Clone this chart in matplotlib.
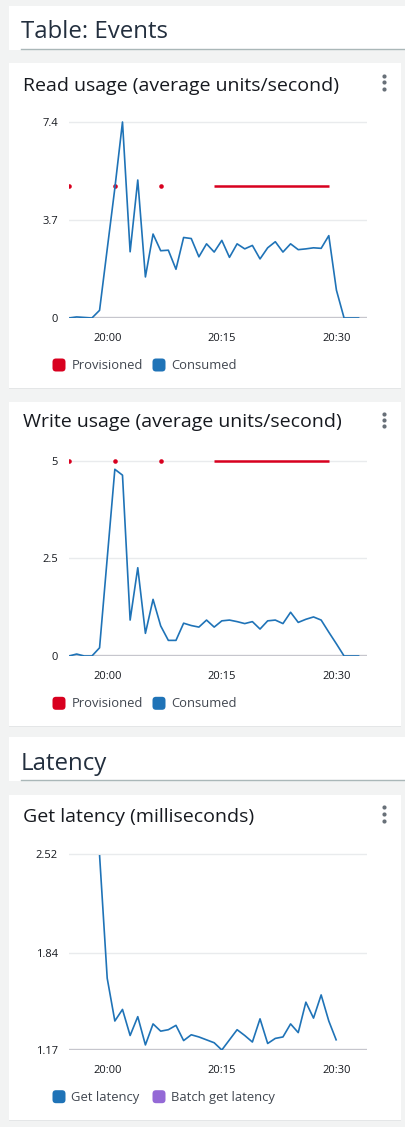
import matplotlib
matplotlib.use("Agg")
import matplotlib.pyplot as plt
import matplotlib.dates as mdates
from matplotlib.patches import FancyBboxPatch, Rectangle
import numpy as np
import pandas as pd

W, H = 406, 1127
nan = np.nan

# one sample per minute, 19:55 .. 20:33
times = pd.date_range("2023-05-10 19:55", "2023-05-10 20:33", freq="min")

read_consumed = [0.0, 0.04, 0.02, 0.0, 0.29, 2.6, 4.9, 7.4, 2.5, 5.21,
                 1.55, 3.17, 2.54, 2.56, 1.84, 3.04, 3.0, 2.31, 2.8, 2.49,
                 2.93, 2.29, 2.8, 2.61, 2.74, 2.23, 2.65, 2.88, 2.49, 2.8,
                 2.58, 2.61, 2.65, 2.63, 3.11, 1.05, 0.0, 0.0, 0.0]
read_provisioned = [5, nan, nan, nan, nan, nan, 5, nan, nan, nan,
                    nan, nan, 5, nan, nan, nan, nan, nan, nan, 5,
                    5, 5, 5, 5, 5, 5, 5, 5, 5, 5,
                    5, 5, 5, 5, 5, nan, nan, nan, nan]

write_consumed = [0.0, 0.05, 0.0, 0.0, 0.21, 2.5, 4.78, 4.63, 0.92, 2.26,
                  0.58, 1.45, 0.77, 0.4, 0.4, 0.84, 0.78, 0.74, 0.92, 0.74,
                  0.9, 0.92, 0.88, 0.83, 0.88, 0.69, 0.9, 0.92, 0.83, 1.12,
                  0.86, 0.94, 1.0, 0.92, 0.61, 0.31, 0.0, 0.0, 0.0]
write_provisioned = list(read_provisioned)

get_latency = [nan, nan, nan, nan, 2.515, 1.665, 1.37, 1.45, 1.27, 1.4,
               1.205, 1.35, 1.3, 1.31, 1.34, 1.235, 1.275, 1.26, 1.24, 1.22,
               1.17, 1.24, 1.31, 1.27, 1.225, 1.385, 1.215, 1.25, 1.26, 1.35,
               1.29, 1.5, 1.39, 1.55, 1.37, 1.235, nan, nan, nan]
batch_get_latency = [nan] * len(times)

read_ticks = [0, 3.7, 7.4]
write_ticks = [0, 2.5, 5]
latency_ticks = [1.17, 1.84, 2.52]
time_ticks = ["2023-05-10 20:00", "2023-05-10 20:15", "2023-05-10 20:30"]

BLUE = "#1f73b7"
RED = "#d8001f"
PURPLE = "#9469d6"
BG = "#f2f3f3"
INK = "#16191f"
FONT = "Open Sans"

fig = plt.figure(figsize=(W / 100, H / 100), dpi=100)
fig.patch.set_facecolor(BG)

# background layer drawn in pixel units (origin top-left)
bg = fig.add_axes([0, 0, 1, 1], zorder=0)
bg.set_xlim(0, W)
bg.set_ylim(H, 0)
bg.axis("off")


def header(y0, y1, label, baseline):
    bg.add_patch(Rectangle((9, y0), W - 9, y1 - y0, facecolor="white", edgecolor="none"))
    bg.plot([21, W], [y1 - 1, y1 - 1], color="#aab7b8", lw=1)
    bg.text(21, baseline, label, fontsize=17.3, family=FONT, color="#232f3e",
            va="baseline", ha="left")


def card(y0, y1, title, baseline, kebab_y):
    bg.add_patch(Rectangle((9, y0 + 1), 392, y1 - y0, facecolor="#e4e6e7", edgecolor="none"))
    bg.add_patch(Rectangle((9, y0), 392, y1 - y0, facecolor="white", edgecolor="none"))
    bg.text(23, baseline, title, fontsize=14, family=FONT, color=INK,
            va="baseline", ha="left")
    bg.plot([384] * 3, kebab_y, "o", color="#687078", ms=3.0, mec="none")


def legend(y, entries):
    for x, color, label in entries:
        bg.add_patch(FancyBboxPatch((x, y - 6.5), 13, 13,
                                    boxstyle="round,pad=0,rounding_size=3.5",
                                    facecolor=color, edgecolor="none"))
        bg.text(x + 19, y + 0.5, label, fontsize=9.4, family=FONT, color="#414750",
                va="center", ha="left")


def chart(top, bottom, ticks, series):
    pad = 6  # px of room above the top tick
    lo, hi = ticks[0], ticks[-1]
    span = (hi - lo) / (bottom - top)
    ax = fig.add_axes([69 / W, 1 - bottom / H, (367 - 69) / W, (bottom - top + pad) / H], zorder=1)
    ax.patch.set_alpha(0)
    for y, color in series:
        y = np.asarray(y, dtype=float)
        ax.plot(times, y, color=color, lw=1.2 if color != RED else 1.8, solid_capstyle="butt")
        prev = np.r_[nan, y[:-1]]
        nxt = np.r_[y[1:], nan]
        lone = ~np.isnan(y) & np.isnan(prev) & np.isnan(nxt)
        if lone.any():
            ax.plot(times[lone], y[lone], "o", color=color, ms=3.3, mec="none")
    ax.set_ylim(lo, hi + pad * span)
    ax.set_xlim(pd.Timestamp("2023-05-10 19:55"), pd.Timestamp("2023-05-10 20:34"))
    ax.set_yticks(ticks)
    ax.set_yticklabels([f"{t:g}" for t in ticks])
    ax.set_xticks(pd.to_datetime(time_ticks))
    ax.xaxis.set_major_formatter(mdates.DateFormatter("%H:%M"))
    for t in ticks[1:]:
        ax.axhline(t, color="#e9ebed", lw=1, zorder=0)
    ax.axhline(lo, color="#c6c6cd", lw=2.4, zorder=0)
    for s in ax.spines.values():
        s.set_visible(False)
    ax.tick_params(length=0, labelsize=8, labelcolor=INK)
    ax.tick_params(axis="y", pad=8)
    ax.tick_params(axis="x", pad=11)
    for lab in ax.get_xticklabels() + ax.get_yticklabels():
        lab.set_family(FONT)
    return ax


header(6, 50, "Table: Events", 38.3)
card(63, 388, "Read usage (average units/second)", 90.7, [76, 82.3, 88.7])
chart(122, 318, read_ticks, [(read_provisioned, RED), (read_consumed, BLUE)])
legend(365, [(52.5, RED, "Provisioned"), (152.5, BLUE, "Consumed")])

card(402, 726, "Write usage (average units/second)", 427.3, [414, 420.3, 426.3])
chart(460.7, 656, write_ticks, [(write_provisioned, RED), (write_consumed, BLUE)])
legend(703.3, [(52.5, RED, "Provisioned"), (152.5, BLUE, "Consumed")])

header(737, 781, "Latency", 770)
card(795, 1120, "Get latency (milliseconds)", 821.7, [807.3, 814, 820.7])
chart(854.3, 1050, latency_ticks, [(get_latency, BLUE), (batch_get_latency, PURPLE)])
legend(1096.7, [(52.5, BLUE, "Get latency"), (152.5, PURPLE, "Batch get latency")])

fig.savefig("out.png", dpi=100, facecolor=fig.get_facecolor())
